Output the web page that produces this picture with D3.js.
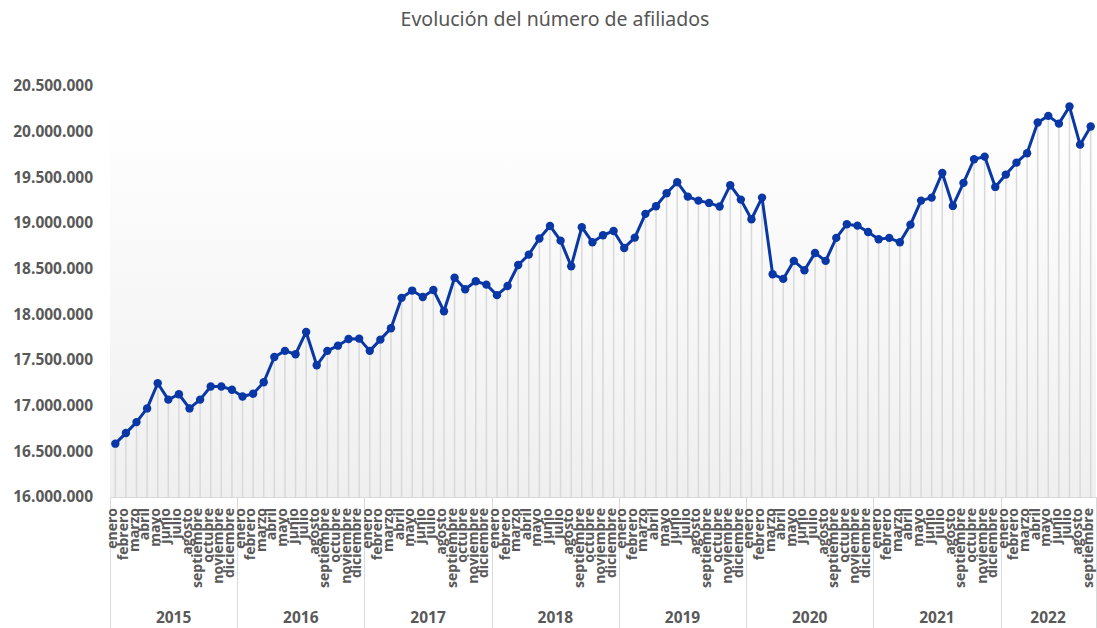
<!DOCTYPE html>
<html>
<head>
  <meta charset="utf-8">
  <script src="https://cdnjs.cloudflare.com/ajax/libs/d3/7.8.5/d3.min.js"></script>
  <style>
    body { margin: 0; background: #fff; }
    svg text { font-family: "Open Sans", sans-serif; }
  </style>
</head>
<body>
  <div id="chart"></div>
  <script>
    // datos (afiliados, en personas)
    const years = ["2015", "2016", "2017", "2018", "2019", "2020", "2021", "2022"];
    const months = ["enero", "febrero", "marzo", "abril", "mayo", "junio", "julio",
      "agosto", "septiembre", "octubre", "noviembre", "diciembre"];

    const v2015 = [16584000, 16700000, 16820000, 16970000, 17245000, 17066000, 17125000, 16970000, 17066000, 17210000, 17210000, 17175000];
    const v2016 = [17100000, 17130000, 17256000, 17533000, 17600000, 17563000, 17807000, 17442000, 17600000, 17657000, 17730000, 17734000];
    const v2017 = [17600000, 17723000, 17848000, 18180000, 18260000, 18190000, 18267000, 18034000, 18400000, 18275000, 18362000, 18325000];
    const v2018 = [18210000, 18310000, 18540000, 18654000, 18830000, 18968000, 18807000, 18527000, 18954000, 18790000, 18866000, 18913000];
    const v2019 = [18727000, 18840000, 19100000, 19184000, 19326000, 19447000, 19289000, 19245000, 19220000, 19180000, 19414000, 19256000];
    const v2020 = [19041000, 19278000, 18439000, 18388000, 18585000, 18483000, 18672000, 18585000, 18837000, 18987000, 18971000, 18902000];
    const v2021 = [18822000, 18837000, 18789000, 18982000, 19245000, 19278000, 19548000, 19187000, 19439000, 19698000, 19727000, 19395000];
    const v2022 = [19530000, 19661000, 19764000, 20100000, 20173000, 20088000, 20275000, 19858000, 20056000];

    const yTicks = [16000000, 16500000, 17000000, 17500000, 18000000, 18500000, 19000000, 19500000, 20000000, 20500000];

    const byYear = [v2015, v2016, v2017, v2018, v2019, v2020, v2021, v2022];
    const data = [];
    byYear.forEach((vals, yi) => {
      vals.forEach((v, mi) => {
        data.push({ key: years[yi] + "-" + mi, year: years[yi], month: months[mi], value: v });
      });
    });

    const width = 1097, height = 628;
    const margin = { top: 86, right: 1, bottom: 130, left: 110 };

    const svg = d3.select("#chart").append("svg")
      .attr("width", width)
      .attr("height", height);

    const defs = svg.append("defs");
    const grad = defs.append("linearGradient")
      .attr("id", "bg")
      .attr("x1", 0).attr("y1", 0).attr("x2", 0).attr("y2", 1);
    grad.append("stop").attr("offset", "0%").attr("stop-color", "#ffffff");
    grad.append("stop").attr("offset", "100%").attr("stop-color", "#efefef");

    const x = d3.scaleBand()
      .domain(data.map(d => d.key))
      .range([margin.left, width - margin.right]);

    const y = d3.scaleLinear()
      .domain([16000000, 20500000])
      .range([height - margin.bottom - 1, margin.top]);

    const fmt = d3.formatLocale({ decimal: ",", thousands: ".", grouping: [3], currency: ["", "€"] }).format(",d");

    // titulo
    svg.append("text")
      .attr("x", 555)
      .attr("y", 26)
      .attr("text-anchor", "middle")
      .style("font-family", "'Noto Sans', sans-serif")
      .style("font-size", "19.5px")
      .style("fill", "#555555")
      .text("Evolución del número de afiliados");

    // fondo
    svg.append("rect")
      .attr("x", margin.left)
      .attr("y", y(20250000))
      .attr("width", width - margin.right - margin.left)
      .attr("height", y(16000000) - y(20250000))
      .attr("fill", "url(#bg)");

    // eje y
    svg.append("g")
      .selectAll("text")
      .data(yTicks)
      .enter().append("text")
      .attr("x", 93)
      .attr("y", d => y(d))
      .attr("dy", "0.35em")
      .attr("text-anchor", "end")
      .style("font-size", "15.5px")
      .style("font-weight", "bold")
      .style("fill", "#595959")
      .text(d => fmt(d));

    const cx = d => x(d.key) + x.bandwidth() / 2;
    const axisY = y(16000000);

    // lineas de caida
    svg.append("g")
      .selectAll("line")
      .data(data)
      .enter().append("line")
      .attr("x1", cx).attr("x2", cx)
      .attr("y1", d => y(d.value))
      .attr("y2", axisY)
      .attr("stroke", "#d9d9d9")
      .attr("stroke-width", 1.5);

    // eje x
    svg.append("line")
      .attr("x1", margin.left).attr("x2", width - margin.right)
      .attr("y1", axisY + 0.5).attr("y2", axisY + 0.5)
      .attr("stroke", "#d9d9d9");

    const yearStarts = years.map(yr => data.find(d => d.year === yr));
    const sep = yearStarts.map(d => x(d.key)).concat([width - margin.right - 0.5]);

    svg.append("g")
      .selectAll("line")
      .data(sep)
      .enter().append("line")
      .attr("x1", d => Math.round(d) + 0.5).attr("x2", d => Math.round(d) + 0.5)
      .attr("y1", axisY).attr("y2", height)
      .attr("stroke", "#d9d9d9");

    // etiquetas de mes
    svg.append("g")
      .selectAll("text")
      .data(data)
      .enter().append("text")
      .attr("transform", d => "translate(" + (cx(d) + 2) + "," + (axisY + 11) + ") rotate(-90)")
      .attr("text-anchor", "end")
      .style("font-size", "14px")
      .style("font-weight", "bold")
      .style("fill", "#595959")
      .text(d => d.month);

    // etiquetas de año
    svg.append("g")
      .selectAll("text")
      .data(years)
      .enter().append("text")
      .attr("x", (d, i) => (sep[i] + sep[i + 1]) / 2)
      .attr("y", 623)
      .attr("text-anchor", "middle")
      .style("font-size", "15.5px")
      .style("font-weight", "bold")
      .style("fill", "#595959")
      .text(d => d);

    // serie
    const line = d3.line()
      .x(cx)
      .y(d => y(d.value));

    svg.append("path")
      .datum(data)
      .attr("d", line)
      .attr("fill", "none")
      .attr("stroke", "#0a37a6")
      .attr("stroke-width", 3)
      .attr("stroke-linejoin", "round");

    svg.append("g")
      .selectAll("circle")
      .data(data)
      .enter().append("circle")
      .attr("cx", cx)
      .attr("cy", d => y(d.value))
      .attr("r", 4.2)
      .attr("fill", "#0a37a6");
  </script>
</body>
</html>
